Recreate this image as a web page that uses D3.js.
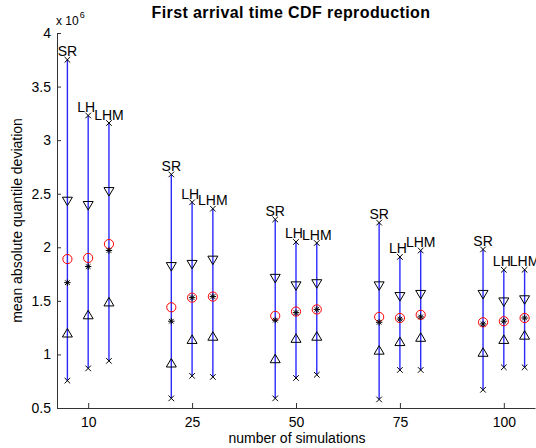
<!DOCTYPE html>
<html><head><meta charset="utf-8">
<script src="https://cdn.jsdelivr.net/npm/d3@7"></script>
<style>
html,body{margin:0;padding:0;background:#fff;}
svg{display:block;font-family:"Liberation Sans",Arial,Helvetica,sans-serif;}
</style></head>
<body><svg id="c" width="536" height="448"></svg>
<script>
// categories (number of simulations) and methods
const categories = ["10", "25", "50", "75", "100"];
const methods = ["SR", "LH", "LHM"];
// values in units of 1e6, rows = methods (SR, LH, LHM), columns = categories
const maxVals    = [[3.75, 2.68, 2.26, 2.23, 1.98], [3.23, 2.42, 2.05, 1.91, 1.79], [3.16, 2.36, 2.04, 1.97, 1.79]];
const upperVals  = [[2.43, 1.82, 1.71, 1.64, 1.56], [2.39, 1.84, 1.64, 1.54, 1.49], [2.52, 1.88, 1.66, 1.56, 1.51]];
const meanVals   = [[1.89, 1.44, 1.36, 1.35, 1.30], [1.90, 1.53, 1.40, 1.34, 1.31], [2.03, 1.54, 1.42, 1.37, 1.34]];
const medianVals = [[1.67, 1.31, 1.32, 1.30, 1.285], [1.82, 1.53, 1.39, 1.33, 1.31], [1.97, 1.54, 1.42, 1.35, 1.34]];
const lowerVals  = [[1.20, 0.92, 0.96, 1.04, 1.02], [1.37, 1.14, 1.15, 1.12, 1.14], [1.49, 1.17, 1.17, 1.16, 1.18]];
const minVals    = [[0.755, 0.59, 0.59, 0.58, 0.67], [0.87, 0.80, 0.78, 0.855, 0.88], [0.94, 0.79, 0.81, 0.855, 0.88]];
const yTicks = [0.5, 1, 1.5, 2, 2.5, 3, 3.5, 4];
const methodOffsets = [-0.2, 0, 0.2];

const svg = d3.select("#c");
const x = d3.scaleLinear().domain([0.7, 5.3]).range([57, 535]);
const y = d3.scaleLinear().domain([0.5, 4]).range([408, 33]);

const rows = [];
methods.forEach((m, mi) => {
  categories.forEach((c, ci) => {
    rows.push({m, mi, ci, pos: ci + 1 + methodOffsets[mi],
      max: maxVals[mi][ci], up: upperVals[mi][ci], mean: meanVals[mi][ci],
      med: medianVals[mi][ci], low: lowerVals[mi][ci], min: minVals[mi][ci]});
  });
});

// axes
const yAxis = d3.axisLeft(y).tickValues(yTicks).tickFormat(d3.format("")).tickSizeInner(-4).tickSizeOuter(0).tickPadding(6);
const gy = svg.append("g").attr("transform", "translate(57,0)").call(yAxis);
const xAxis = d3.axisBottom(x).tickValues([1, 2, 3, 4, 5]).tickFormat(i => categories[i - 1]).tickSizeInner(-5).tickSizeOuter(0).tickPadding(9);
const gx = svg.append("g").attr("transform", "translate(0,408)").call(xAxis);
[gx, gy].forEach(g => {
  g.selectAll("path,line").attr("stroke", "#333");
  g.selectAll("text").attr("font-size", 14).attr("fill", "#000").attr("font-family", "'Liberation Sans',Arial,sans-serif");
});

// vertical range lines
const g = svg.append("g");
g.selectAll("line.rng").data(rows).join("line")
  .attr("x1", d => x(d.pos)).attr("x2", d => x(d.pos))
  .attr("y1", d => y(d.max)).attr("y2", d => y(d.min))
  .attr("stroke", "#2a2aff").attr("stroke-width", 1.4);

const xMark = "M-2.8,-2.8L2.8,2.8M-2.8,2.8L2.8,-2.8";
const star = "M-3.2,0L3.2,0M0,-3.2L0,3.2M-2.3,-2.3L2.3,2.3M-2.3,2.3L2.3,-2.3";
const triDown = "M-5,-4L5,-4L0,4.5Z";
const triUp = "M-5,4L5,4L0,-4.5Z";

function marks(key, path, color) {
  g.selectAll(null).data(rows).join("path")
    .attr("d", path)
    .attr("transform", d => `translate(${x(d.pos)},${y(d[key])})`)
    .attr("fill", "none").attr("stroke", color).attr("stroke-width", 1);
}
marks("max", xMark, "#000");
marks("min", xMark, "#000");
marks("up", triDown, "#000");
marks("low", triUp, "#000");
g.selectAll(null).data(rows).join("circle")
  .attr("cx", d => x(d.pos)).attr("cy", d => y(d.mean)).attr("r", 4.6)
  .attr("fill", "none").attr("stroke", "#ff0000").attr("stroke-width", 1);
marks("med", star, "#000");

// method labels
g.selectAll(null).data(rows).join("text")
  .attr("x", d => x(d.pos) + (d.m === "LH" ? -2 : 0))
  .attr("y", d => y(d.max) - 3.5)
  .attr("text-anchor", "middle").attr("font-size", 14).text(d => d.m);

// exponent label
const ex = svg.append("text").attr("x", 56).attr("y", 25).attr("font-size", 12);
ex.append("tspan").text("x 10");
ex.append("tspan").attr("font-size", 9).attr("dy", -7).attr("dx", 1).text("6");

// title
svg.append("text").attr("x", 291).attr("y", 18).attr("text-anchor", "middle")
  .attr("font-size", 16).attr("font-weight", "bold").attr("letter-spacing", 0.4)
  .text("First arrival time CDF reproduction");
// axis labels
svg.append("text").attr("x", 297).attr("y", 443).attr("text-anchor", "middle")
  .attr("font-size", 14).text("number of simulations");
svg.append("text").attr("transform", "translate(22,220.5) rotate(-90)").attr("text-anchor", "middle")
  .attr("font-size", 14).text("mean absolute quantile deviation");
</script></body></html>
